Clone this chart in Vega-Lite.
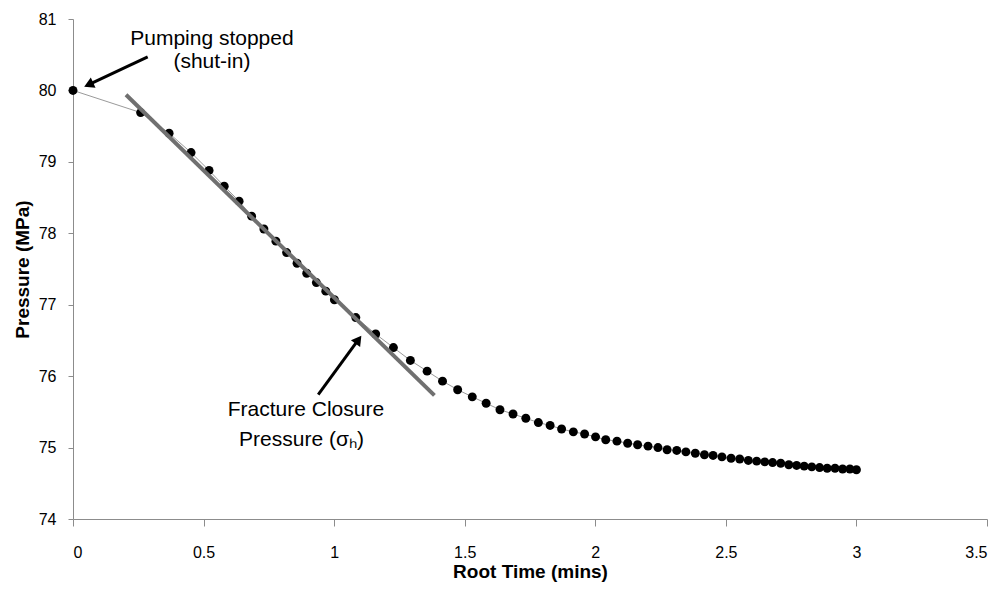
{
  "$schema": "https://vega.github.io/schema/vega-lite/v6.json",
  "width": 914,
  "height": 500,
  "autosize": {"type": "none"},
  "padding": {"left": 73, "top": 19, "right": 21, "bottom": 73},
  "background": "white",
  "config": {
    "font": "Liberation Sans",
    "view": {"stroke": null},
    "axis": {
      "grid": false,
      "domainColor": "#8c8c8c",
      "tickColor": "#8c8c8c",
      "labelColor": "#000000",
      "labelFontSize": 16,
      "labelFont": "Liberation Sans",
      "titleFont": "Liberation Sans",
      "titleFontSize": 19,
      "titleFontWeight": "bold",
      "titleColor": "#000000"
    }
  },
  "datasets": {
    "pts": [
      {"t": 0, "p": 80.00}, {"t": 0.259, "p": 79.69}, {"t": 0.368, "p": 79.40}, {"t": 0.452, "p": 79.13},
      {"t": 0.521, "p": 78.88}, {"t": 0.579, "p": 78.66}, {"t": 0.636, "p": 78.45}, {"t": 0.684, "p": 78.24},
      {"t": 0.731, "p": 78.06}, {"t": 0.777, "p": 77.89}, {"t": 0.818, "p": 77.73}, {"t": 0.858, "p": 77.58},
      {"t": 0.895, "p": 77.44}, {"t": 0.932, "p": 77.31}, {"t": 0.968, "p": 77.19}, {"t": 1.001, "p": 77.07},
      {"t": 1.083, "p": 76.82}, {"t": 1.159, "p": 76.59}, {"t": 1.227, "p": 76.40}, {"t": 1.292, "p": 76.22},
      {"t": 1.356, "p": 76.07}, {"t": 1.415, "p": 75.93}, {"t": 1.473, "p": 75.81}, {"t": 1.529, "p": 75.71},
      {"t": 1.582, "p": 75.62}, {"t": 1.635, "p": 75.53}, {"t": 1.685, "p": 75.47}, {"t": 1.734, "p": 75.41},
      {"t": 1.782, "p": 75.35}, {"t": 1.827, "p": 75.31}, {"t": 1.871, "p": 75.26}, {"t": 1.916, "p": 75.22},
      {"t": 1.959, "p": 75.19}, {"t": 2.001, "p": 75.15}, {"t": 2.040, "p": 75.11}, {"t": 2.083, "p": 75.09},
      {"t": 2.124, "p": 75.06}, {"t": 2.162, "p": 75.04}, {"t": 2.202, "p": 75.02}, {"t": 2.240, "p": 75.00},
      {"t": 2.275, "p": 74.97}, {"t": 2.312, "p": 74.96}, {"t": 2.347, "p": 74.94}, {"t": 2.383, "p": 74.92},
      {"t": 2.418, "p": 74.90}, {"t": 2.451, "p": 74.89}, {"t": 2.485, "p": 74.87}, {"t": 2.520, "p": 74.85},
      {"t": 2.553, "p": 74.84}, {"t": 2.586, "p": 74.82}, {"t": 2.618, "p": 74.81}, {"t": 2.649, "p": 74.80},
      {"t": 2.679, "p": 74.79}, {"t": 2.710, "p": 74.78}, {"t": 2.741, "p": 74.76}, {"t": 2.771, "p": 74.75},
      {"t": 2.800, "p": 74.74}, {"t": 2.829, "p": 74.73}, {"t": 2.859, "p": 74.72}, {"t": 2.888, "p": 74.71},
      {"t": 2.918, "p": 74.71}, {"t": 2.947, "p": 74.70}, {"t": 2.975, "p": 74.70}, {"t": 3.000, "p": 74.69}
    ],
    "tangent": [
      {"t": 0.203, "p": 79.94, "t2": 1.384, "p2": 75.73}
    ],
    "arrows": [
      {"name": "shutin", "t": 0.286, "p": 80.47, "t2": 0.060, "p2": 80.08},
      {"name": "closure", "t": 0.939, "p": 75.74, "t2": 1.093, "p2": 76.51}
    ],
    "labels": [
      {"label": "Pumping stopped", "t": 0.532, "p": 80.63},
      {"label": "(shut-in)", "t": 0.532, "p": 80.31},
      {"label": "Fracture Closure", "t": 0.892, "p": 75.44},
      {"label": "Pressure (σₕ)", "t": 0.875, "p": 75.02}
    ]
  },
  "encoding": {
    "x": {
      "field": "t",
      "type": "quantitative",
      "scale": {"domain": [0, 3.5], "nice": false, "zero": false},
      "axis": {
        "title": "Root Time (mins)",
        "values": [0, 0.5, 1, 1.5, 2, 2.5, 3, 3.5],
        "format": "~g",
        "tickSize": 7,
        "labelPadding": 18,
        "titlePadding": 2
      }
    },
    "y": {
      "field": "p",
      "type": "quantitative",
      "scale": {"domain": [74, 81], "nice": false, "zero": false},
      "axis": {
        "title": "Pressure (MPa)",
        "values": [74, 75, 76, 77, 78, 79, 80, 81],
        "tickSize": 5,
        "labelPadding": 12,
        "titlePadding": 6
      }
    }
  },
  "layer": [
    {
      "data": {"name": "pts"},
      "mark": {"type": "line", "color": "#9a9a9a", "strokeWidth": 1}
    },
    {
      "data": {"name": "pts"},
      "mark": {"type": "point", "shape": "circle", "filled": true, "color": "#000000", "opacity": 1, "size": 80}
    },
    {
      "data": {"name": "tangent"},
      "mark": {"type": "rule", "color": "#707070", "strokeWidth": 4},
      "encoding": {"x2": {"field": "t2"}, "y2": {"field": "p2"}}
    },
    {
      "data": {"name": "arrows"},
      "mark": {"type": "rule", "color": "#000000", "strokeWidth": 3},
      "encoding": {"x2": {"field": "t2"}, "y2": {"field": "p2"}}
    },
    {
      "data": {"name": "arrows"},
      "transform": [{"filter": "datum.name === 'shutin'"}],
      "mark": {"type": "point", "shape": "triangle-up", "filled": true, "color": "#000000", "opacity": 1, "size": 130, "angle": 245.5},
      "encoding": {"x": {"field": "t2", "type": "quantitative"}, "y": {"field": "p2", "type": "quantitative"}}
    },
    {
      "data": {"name": "arrows"},
      "transform": [{"filter": "datum.name === 'closure'"}],
      "mark": {"type": "point", "shape": "triangle-up", "filled": true, "color": "#000000", "opacity": 1, "size": 130, "angle": 36.2},
      "encoding": {"x": {"field": "t2", "type": "quantitative"}, "y": {"field": "p2", "type": "quantitative"}}
    },
    {
      "data": {"name": "labels"},
      "mark": {"type": "text", "align": "center", "baseline": "alphabetic", "fontSize": 21, "font": "Liberation Sans", "color": "#000000"},
      "encoding": {"text": {"field": "label"}}
    }
  ]
}
